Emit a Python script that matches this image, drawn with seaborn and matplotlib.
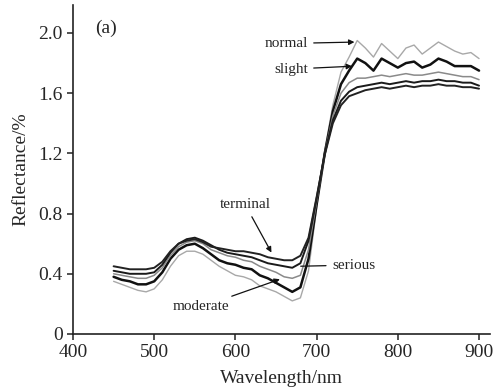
import matplotlib
matplotlib.use("Agg")
import matplotlib.pyplot as plt
import seaborn as sns
import pandas as pd

# Wavelength grid (nm)
wavelength = [450, 460, 470, 480, 490, 500, 510, 520, 530, 540, 550, 560, 570, 580, 590,
              600, 610, 620, 630, 640, 650, 660, 670, 680, 690, 700, 710, 720, 730, 740,
              750, 760, 770, 780, 790, 800, 810, 820, 830, 840, 850, 860, 870, 880, 890, 900]

normal = [0.35, 0.33, 0.31, 0.29, 0.28, 0.30, 0.36, 0.45, 0.52, 0.55, 0.55, 0.53, 0.49, 0.45, 0.42,
          0.39, 0.38, 0.36, 0.32, 0.30, 0.28, 0.25, 0.22, 0.24, 0.42, 0.84, 1.22, 1.52, 1.74, 1.84,
          1.95, 1.90, 1.84, 1.93, 1.88, 1.83, 1.90, 1.92, 1.86, 1.90, 1.94, 1.91, 1.88, 1.86, 1.87, 1.83]
slight = [0.38, 0.36, 0.35, 0.33, 0.33, 0.35, 0.41, 0.50, 0.56, 0.59, 0.60, 0.57, 0.53, 0.49, 0.47,
          0.46, 0.44, 0.43, 0.39, 0.37, 0.34, 0.31, 0.28, 0.31, 0.50, 0.86, 1.20, 1.48, 1.66, 1.75,
          1.83, 1.80, 1.75, 1.83, 1.80, 1.77, 1.80, 1.81, 1.77, 1.79, 1.83, 1.81, 1.78, 1.78, 1.78, 1.75]
moderate = [0.40, 0.39, 0.38, 0.37, 0.37, 0.39, 0.44, 0.52, 0.58, 0.61, 0.62, 0.60, 0.56, 0.54, 0.52,
            0.51, 0.49, 0.48, 0.45, 0.43, 0.41, 0.38, 0.37, 0.39, 0.56, 0.88, 1.20, 1.45, 1.60, 1.67,
            1.70, 1.70, 1.71, 1.72, 1.71, 1.72, 1.73, 1.72, 1.72, 1.73, 1.74, 1.73, 1.72, 1.71, 1.71, 1.69]
serious = [0.42, 0.41, 0.40, 0.40, 0.40, 0.41, 0.46, 0.54, 0.60, 0.63, 0.64, 0.62, 0.59, 0.56, 0.54,
           0.53, 0.52, 0.51, 0.49, 0.47, 0.46, 0.45, 0.44, 0.47, 0.62, 0.90, 1.20, 1.42, 1.55, 1.61,
           1.64, 1.65, 1.66, 1.67, 1.66, 1.67, 1.68, 1.67, 1.68, 1.68, 1.69, 1.68, 1.68, 1.67, 1.67, 1.65]
terminal = [0.45, 0.44, 0.43, 0.43, 0.43, 0.44, 0.48, 0.55, 0.60, 0.62, 0.63, 0.61, 0.58, 0.57, 0.56,
            0.55, 0.55, 0.54, 0.53, 0.51, 0.50, 0.49, 0.49, 0.52, 0.64, 0.91, 1.19, 1.40, 1.52, 1.58,
            1.60, 1.62, 1.63, 1.64, 1.63, 1.64, 1.65, 1.64, 1.65, 1.65, 1.66, 1.65, 1.65, 1.64, 1.64, 1.63]

levels = ['normal', 'slight', 'moderate', 'serious', 'terminal']
series = [normal, slight, moderate, serious, terminal]
colors = {'normal': '#a8a8a8', 'slight': '#111111', 'moderate': '#8a8a8a',
          'serious': '#1a1a1a', 'terminal': '#222222'}
widths = {'normal': 1.0, 'slight': 1.8, 'moderate': 1.1, 'serious': 1.4, 'terminal': 1.4}

df = pd.concat([pd.DataFrame({'wavelength': wavelength, 'reflectance': s, 'level': lv})
                for lv, s in zip(levels, series)], ignore_index=True)

sns.set_style("ticks")
plt.rcParams['font.family'] = ['Liberation Serif', 'DejaVu Serif']

fig = plt.figure(figsize=(4.94, 3.89), dpi=100)
ax = fig.add_axes([73 / 494, 55 / 389, 417 / 494, 329 / 389])

for lv in levels:
    sns.lineplot(data=df[df['level'] == lv], x='wavelength', y='reflectance', ax=ax,
                 color=colors[lv], lw=widths[lv], legend=False)

ax.set_xlim(400, 913.5)
ax.set_ylim(0, 2.186)
ax.set_xticks([400, 500, 600, 700, 800, 900])
ax.set_yticks([0, 0.4, 0.8, 1.2, 1.6, 2.0])
ax.set_yticklabels(['0', '0.4', '0.8', '1.2', '1.6', '2.0'])
ax.tick_params(direction='out', length=4, width=1.1, labelsize=14, color='#222222')
for sp in ['top', 'right']:
    ax.spines[sp].set_visible(False)
for sp in ['left', 'bottom']:
    ax.spines[sp].set_linewidth(1.2)
    ax.spines[sp].set_color('#222222')

ax.set_xlabel('Wavelength/nm', fontsize=14, labelpad=6)
ax.set_ylabel('Reflectance/%', fontsize=14, labelpad=6)

ax.text(427, 2.03, '(a)', fontsize=14, va='center', ha='left')

arr = dict(arrowstyle='-|>', color='#111111', lw=0.9, mutation_scale=8)
ax.annotate('normal', xy=(750, 1.94), xytext=(689, 1.93), fontsize=11,
            ha='right', va='center', arrowprops=arr)
ax.annotate('slight', xy=(747, 1.78), xytext=(689, 1.76), fontsize=11,
            ha='right', va='center', arrowprops=arr)
ax.annotate('terminal', xy=(646, 0.525), xytext=(612, 0.86), fontsize=11,
            ha='center', va='center', arrowprops=arr)
ax.annotate('serious', xy=(677, 0.45), xytext=(719, 0.458), fontsize=11,
            ha='left', va='center',
            arrowprops=dict(arrowstyle='-', color='#111111', lw=0.9))
ax.annotate('moderate', xy=(658, 0.37), xytext=(593, 0.18), fontsize=11,
            ha='right', va='center', arrowprops=arr)

fig.savefig('out.png', dpi=100)
